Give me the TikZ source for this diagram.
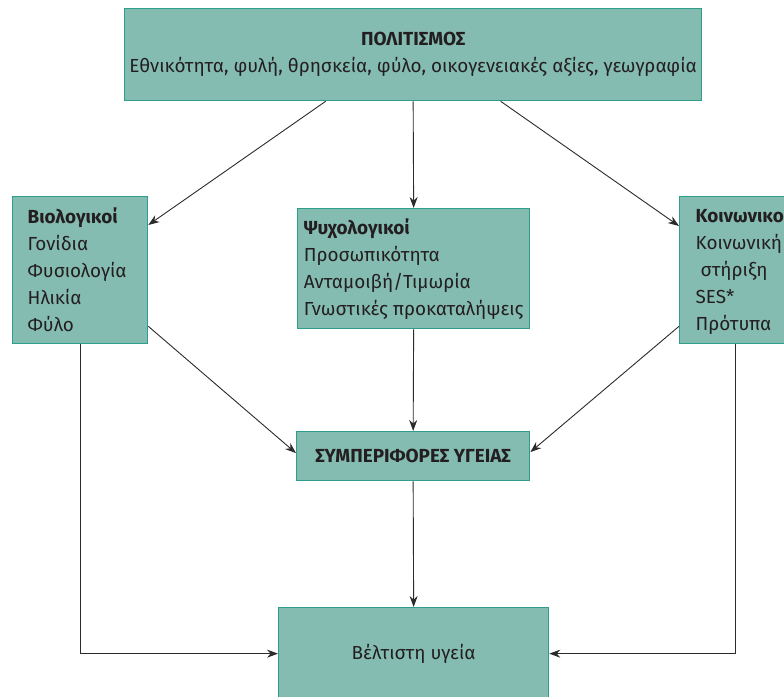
\documentclass[tikz,border=0pt]{standalone}
\usepackage{fontspec}
\setmainfont{Fira Sans}
\usetikzlibrary{arrows.meta}
\definecolor{boxfill}{HTML}{85BCB1}
\definecolor{boxline}{HTML}{2E9E8A}
\definecolor{ink}{HTML}{231F20}
\definecolor{wire}{HTML}{2B2B2B}
\begin{document}
\begin{tikzpicture}[x=1pt,y=-1pt,
  box/.style={draw=boxline,fill=boxfill,line width=1.3pt,text=ink,inner sep=0pt,
    font=\fontsize{18.9}{27}\selectfont},
  listbox/.style={box,anchor=north west,align=left,inner xsep=15pt},
  arr/.style={draw=wire,line width=0.9pt,-{Stealth[length=11pt,width=8pt]}},
  ]
\useasboundingbox (0,0) rectangle (784,696);

% top: culture
\node[box,anchor=north west,minimum width=577pt,minimum height=92pt,align=center] (top) at (124,8)
  {\textbf{ΠΟΛΙΤΙΣΜΟΣ}\\Εθνικότητα, φυλή, θρησκεία, φύλο, οικογενειακές αξίες, γεωγραφία};

% three groups of factors
\node[listbox,minimum width=135pt,minimum height=147pt,text width=105pt] (bio) at (12,196)
  {\textbf{Βιολογικοί}\\Γονίδια\\Φυσιολογία\\Ηλικία\\Φύλο};
\node[listbox,minimum width=232pt,minimum height=120pt,inner xsep=6pt] (psy) at (297,208)
  {\textbf{Ψυχολογικοί}\\Προσωπικότητα\\Ανταμοιβή/Τιμωρία\\Γνωστικές προκαταλήψεις};
\node[listbox,minimum width=135pt,minimum height=147pt,inner xsep=16pt,text width=103pt] (soc) at (679,196)
  {\textbf{Κοινωνικοί}\\Κοινωνική\\\hspace*{5pt}στήριξη\\SES*\\Πρότυπα};

% health behaviours and outcome
\node[box,anchor=north west,minimum width=233pt,minimum height=49pt] (beh) at (296,431)
  {\textbf{ΣΥΜΠΕΡΙΦΟΡΕΣ ΥΓΕΙΑΣ}};
\node[box,anchor=north west,minimum width=270pt,minimum height=92pt] (best) at (278,607)
  {Βέλτιστη υγεία};

% connectors (shifts are in page direction: positive yshift moves up)
\draw[arr] ([xshift=-87.5pt]top.south) -- ([yshift=-29pt]bio.north east);
\draw[arr] (top.south) -- (psy.north);
\draw[arr] ([xshift=87.5pt]top.south) -- ([yshift=-30pt]soc.north west);
\draw[arr] ([yshift=18pt]bio.south east) -- ([yshift=3pt]beh.west);
\draw[arr] (psy.south) -- (beh.north);
\draw[arr] ([yshift=18pt]soc.south west) -- ([yshift=4pt]beh.east);
\draw[arr] (beh.south) -- (best.north);
\draw[arr] (bio.south) |- (best.west);
\draw[arr] ([xshift=-11.5pt]soc.south) |- (best.east);
\end{tikzpicture}
\end{document}
